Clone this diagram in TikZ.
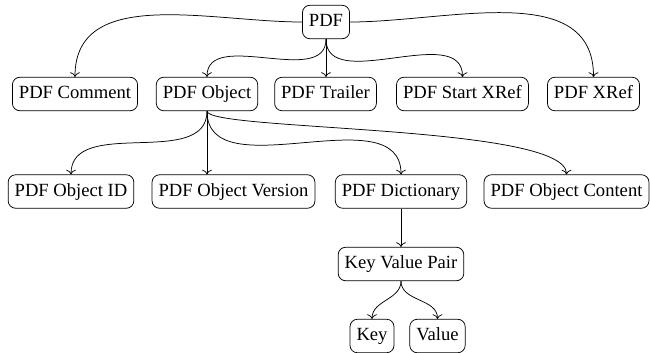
\documentclass[tikz,border=0pt]{standalone}
\usepackage{fontspec}
\setmainfont{Liberation Serif}
\usetikzlibrary{arrows.meta, positioning, calc}

\begin{document}
\begin{tikzpicture}[x=0.5376pt, y=-0.5376pt, auto,
    part/.style={draw, rounded corners=4pt, text height=8pt, text depth=3pt, inner xsep=3.5pt, inner ysep=3.5pt}]
      \useasboundingbox (0, 0) rectangle (650, 352);
      % top level
      \node[part] (PDF) at (326, 22) {PDF};
      \node[part] (Comment) at (75, 94) {PDF Comment};
      \node[part] (Object) at (207, 94) {PDF Object};
      \node[part] (Trailer) at (325.5, 94) {PDF Trailer};
      \node[part] (StartXRef) at (462.5, 94) {PDF Start XRef};
      \node[part] (XRef) at (593.5, 94) {PDF XRef};
      % object parts
      \node[part] (ID) at (71, 191.5) {PDF Object ID};
      \node[part] (Version) at (233.5, 191.5) {PDF Object Version};
      \node[part] (Dict) at (401, 191.5) {PDF Dictionary};
      \node[part] (Content) at (566.5, 191.5) {PDF Object Content};
      % dictionary
      \node[part] (Pair) at (401, 264) {Key Value Pair};
      \node[part] (Key) at (372, 336) {Key};
      \node[part] (Value) at (437.5, 336) {Value};
      \draw[->] (PDF.west) to[out=180, in=90] (Comment.north);
      \draw[->] (PDF.south) to[out=-90, in=90] (Object.north);
      \draw[->] (PDF.south) -- (PDF.south |- Trailer.north);
      \draw[->] (PDF.south) to[out=-90, in=90] (StartXRef.north);
      \draw[->] (PDF.east) to[out=0, in=90] (XRef.north);
      \draw[->] (Object.south) to[out=-90, in=90] (ID.north);
      \draw[->] (Object.south) -- (Object.south |- Version.north);
      \draw[->] (Object.south) to[out=-90, in=90] (Dict.north);
      \draw[->] (Object.south) to[out=-90, in=90, out looseness=0.14, in looseness=0.35] (Content.north);
      \draw[->] (Dict.south) -- (Pair.north);
      \draw[->] (Pair.south) to[out=-90, in=90] (Key.north);
      \draw[->] (Pair.south) to[out=-90, in=90] (Value.north);
    \end{tikzpicture}
\end{document}
